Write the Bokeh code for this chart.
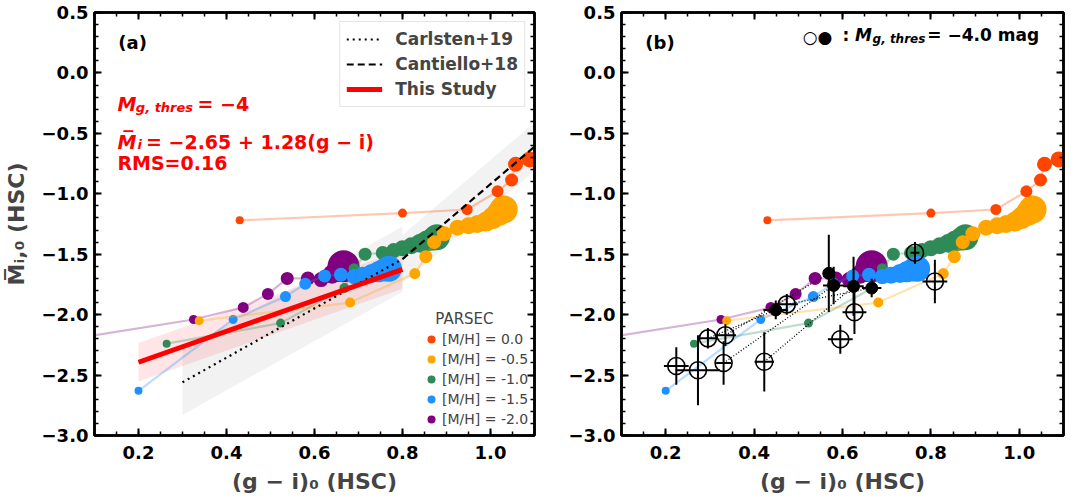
import numpy as np
from bokeh.plotting import figure
from bokeh.models import (ColumnDataSource, FixedTicker, LinearAxis, Range1d, Legend,
                          LegendItem, Label, CustomJSTickFormatter)
from bokeh.layouts import row
from bokeh.embed import file_html
from bokeh.resources import INLINE

# ---------------- data ----------------
# PARSEC isochrone tracks: (g-i)_0 and mean M_i,0
mh_labels = ["[M/H] = 0.0", "[M/H] = -0.5", "[M/H] = -1.0", "[M/H] = -1.5", "[M/H] = -2.0"]

mh00_gi = [0.43, 0.80, 0.947, 1.016, 1.048, 1.057, 1.089]
mh00_mi = [-1.22, -1.16, -1.13, -0.98, -0.886, -0.756, -0.716]

mh05_gi = [0.338, 0.681, 0.828, 0.853, 0.872, 0.895, 0.925, 0.95, 0.97, 0.99, 1.005, 1.02, 1.03]
mh05_mi = [-2.05, -1.90, -1.66, -1.52, -1.40, -1.33, -1.28, -1.265, -1.25, -1.23, -1.20, -1.16, -1.13]

mh10_gi = [0.264, 0.523, 0.668, 0.69, 0.715, 0.755, 0.78, 0.80, 0.82, 0.84, 0.855, 0.868, 0.878]
mh10_mi = [-2.24, -2.07, -1.78, -1.62, -1.50, -1.49, -1.47, -1.45, -1.43, -1.41, -1.39, -1.375, -1.36]

mh15_gi = [0.20, 0.415, 0.534, 0.579, 0.623, 0.66, 0.69, 0.71, 0.73, 0.745, 0.758, 0.769]
mh15_mi = [-2.63, -2.04, -1.85, -1.745, -1.68, -1.67, -1.685, -1.675, -1.66, -1.645, -1.63, -1.62]

mh20_gi = [0.0, 0.325, 0.438, 0.494, 0.538, 0.585, 0.615, 0.64, 0.655, 0.666]
mh20_mi = [-2.23, -2.04, -1.94, -1.83, -1.70, -1.70, -1.71, -1.665, -1.63, -1.60]

# relations (panel a)
fit_intercept = -2.65
fit_slope = 1.28
fit_rms = 0.16
fit_gi = [0.2, 0.8]
carlsten_gi = [0.3, 0.8]
carlsten_mi = [-2.56, -1.54]
carlsten_sigma = 0.27
cantiello_gi = [0.8, 1.1]
cantiello_mi = [-1.54, -0.61]
cantiello_sigma = 0.2

# measurements (panel b): open and filled circles
open_gi = [0.224, 0.273, 0.331, 0.2955, 0.335, 0.423, 0.474, 0.595, 0.627, 0.764, 0.809]
open_gi_err = [0.028, 0.05, 0.017, 0.02, 0.024, 0.022, 0.025, 0.028, 0.027, 0.01, 0.028]
open_mi = [-2.425, -2.46, -2.40, -2.196, -2.17, -2.39, -1.915, -2.204, -1.98, -1.488, -1.726]
open_mi_err = [0.155, 0.29, 0.18, 0.085, 0.09, 0.245, 0.085, 0.12, 0.18, 0.09, 0.18]

filled_gi = [0.449, 0.569, 0.580, 0.625, 0.666]
filled_gi_err = [0.028, 0.01, 0.024, 0.023, 0.022]
filled_mi = [-1.961, -1.658, -1.758, -1.766, -1.78]
filled_mi_err = [0.077, 0.32, 0.155, 0.245, 0.077]

pair_open = [3, 4, 2, 5, 6]
pair_filled = [0, 1, 2, 3, 4]

x_ticks = [0.2, 0.4, 0.6, 0.8, 1.0]
y_ticks = [-3.0, -2.5, -2.0, -1.5, -1.0, -0.5, 0.0, 0.5]

# ---------------- styles ----------------
FONT = "DejaVu Sans"
colors = {"0.0": "#FF4500", "-0.5": "#FFA500", "-1.0": "#2E8B57", "-1.5": "#1E90FF", "-2.0": "#800080"}
tracks = {
    "0.0": (mh00_gi, mh00_mi, [8, 9, 11, 12, 13, 15, 16]),
    "-0.5": (mh05_gi, mh05_mi, [9, 10, 11, 13, 14, 15, 16, 17, 18, 20, 22, 25, 28]),
    "-1.0": (mh10_gi, mh10_mi, [8, 9, 10, 11, 13, 14, 15, 16, 17, 19, 21, 23, 26]),
    "-1.5": (mh15_gi, mh15_mi, [8, 9, 11, 12, 13, 14, 15, 17, 19, 21, 23, 26]),
    "-2.0": (mh20_gi, mh20_mi, [8, 9, 11, 12, 13, 14, 15, 19, 24, 32]),
}
draw_order = ["-2.0", "-1.0", "-1.5", "-0.5", "0.0"]
legend_order = ["0.0", "-0.5", "-1.0", "-1.5", "-2.0"]

minus_fmt = "return tick.toFixed(1).replace('-', '\\u2212');"


def style_axis(ax):
    ax.axis_line_width = 2.5
    ax.axis_line_color = "black"
    ax.major_tick_in = 7
    ax.major_tick_out = 0
    ax.minor_tick_in = 4
    ax.minor_tick_out = 0
    ax.major_tick_line_width = 2
    ax.minor_tick_line_width = 1.5
    ax.major_label_text_font = FONT
    ax.major_label_text_font_style = "bold"
    ax.major_label_text_font_size = "18px"
    ax.major_label_text_color = "black"


def make_fig(width, border_left):
    p = figure(width=width, height=496, x_range=Range1d(0.1, 1.1), y_range=Range1d(-3.0, 0.5),
               output_backend="svg", toolbar_location=None,
               min_border_left=border_left, min_border_right=2, min_border_top=12,
               min_border_bottom=56)
    p.grid.visible = False
    p.outline_line_color = "black"
    p.outline_line_width = 2.5
    xt = FixedTicker(ticks=x_ticks, minor_ticks=list(np.round(np.arange(0.1, 1.1001, 0.05), 3)))
    yt = FixedTicker(ticks=y_ticks, minor_ticks=list(np.round(np.arange(-3.0, 0.5001, 0.1), 3)))
    p.xaxis.ticker = xt
    p.yaxis.ticker = yt
    p.xaxis.formatter = CustomJSTickFormatter(code=minus_fmt)
    p.yaxis.formatter = CustomJSTickFormatter(code=minus_fmt)
    style_axis(p.xaxis[0])
    style_axis(p.yaxis[0])
    p.xaxis.major_label_standoff = 10
    p.yaxis.major_label_standoff = 6
    p.xaxis.axis_label = "(g \u2212 i)\u2080 (HSC)"
    p.xaxis.axis_label_text_font = FONT
    p.xaxis.axis_label_text_font_style = "bold"
    p.xaxis.axis_label_text_font_size = "22px"
    p.xaxis.axis_label_standoff = 7
    empty = CustomJSTickFormatter(code="return '';")
    top = LinearAxis(ticker=xt, formatter=empty, major_label_standoff=0)
    right = LinearAxis(ticker=yt, formatter=empty, major_label_standoff=0)
    style_axis(top)
    style_axis(right)
    p.add_layout(top, "above")
    p.add_layout(right, "right")
    return p


def draw_isochrones(p):
    rends = {}
    for key in draw_order:
        gi, mi, sz = tracks[key]
        src = ColumnDataSource(dict(x=gi, y=mi, s=sz))
        p.line("x", "y", source=src, line_color=colors[key], line_alpha=0.3, line_width=2.2)
        rends[key] = p.scatter("x", "y", source=src, size="s", fill_color=colors[key],
                               line_color=None)
    return rends


def add_text(p, x, y, text, size, style="bold", color="black"):
    p.add_layout(Label(x=x, y=y, text=text, text_font=FONT, text_font_size=size,
                       text_font_style=style, text_color=color, text_baseline="middle",
                       text_align="left"))


# ---------------- panel (a) ----------------
p1 = make_fig(536, 87)
p1.yaxis[0].axis_label = "M\u0305\u1d62,\u2080 (HSC)"
p1.yaxis[0].axis_label_text_font = FONT
p1.yaxis[0].axis_label_text_font_style = "bold"
p1.yaxis[0].axis_label_text_font_size = "22px"
p1.yaxis[0].axis_label_standoff = 10

fit_mi = [fit_intercept + fit_slope * g for g in fit_gi]
p1.varea(x=carlsten_gi, y1=[m - carlsten_sigma for m in carlsten_mi],
         y2=[m + carlsten_sigma for m in carlsten_mi], fill_color="gray", fill_alpha=0.1)
p1.varea(x=cantiello_gi, y1=[m - cantiello_sigma for m in cantiello_mi],
         y2=[m + cantiello_sigma for m in cantiello_mi], fill_color="gray", fill_alpha=0.1)
p1.varea(x=fit_gi, y1=[m - fit_rms for m in fit_mi], y2=[m + fit_rms for m in fit_mi],
         fill_color="red", fill_alpha=0.1)

rends1 = draw_isochrones(p1)

r_carl = p1.line(carlsten_gi, carlsten_mi, line_color="black", line_width=2.2, line_dash="2 4")
r_cant = p1.line(cantiello_gi, cantiello_mi, line_color="black", line_width=2.2, line_dash="7 4")
r_fit = p1.line(fit_gi, fit_mi, line_color="red", line_width=5)

leg1 = Legend(items=[LegendItem(label="Carlsten+19", renderers=[r_carl]),
                     LegendItem(label="Cantiello+18", renderers=[r_cant]),
                     LegendItem(label="This Study", renderers=[r_fit])],
              location="top_right", margin=9, padding=6, spacing=3, glyph_width=36,
              glyph_height=22, label_height=22, label_standoff=13,
              label_text_font=FONT, label_text_font_style="bold", label_text_font_size="17px",
              border_line_color="#cccccc", border_line_width=1.2, background_fill_alpha=0.85)
p1.add_layout(leg1)

leg2 = Legend(items=[LegendItem(label=mh_labels[i], renderers=[rends1[k]])
                     for i, k in enumerate(legend_order)],
              location=(327, 6), title="\u00a0\u00a0\u00a0PARSEC", title_text_font=FONT,
              title_text_font_size="15px", title_text_font_style="normal", title_standoff=1,
              padding=0, spacing=-2, glyph_width=20, glyph_height=20, label_height=18,
              label_standoff=1, label_text_font=FONT, label_text_font_size="14px",
              border_line_color=None, background_fill_alpha=0)
p1.add_layout(leg2)

add_text(p1, 0.154, 0.25, "(a)", "18px")
RED = "#FF0000"
add_text(p1, 0.152, -0.254, "M", "19px", "bold italic", RED)
add_text(p1, 0.194, -0.285, "g, thres", "13px", "bold italic", RED)
add_text(p1, 0.334, -0.254, "= \u22124", "19px", "bold", RED)
add_text(p1, 0.152, -0.57, "M\u0305", "19px", "bold italic", RED)
add_text(p1, 0.198, -0.594, "i", "13px", "bold italic", RED)
add_text(p1, 0.217, -0.57, "= \u22122.65 + 1.28(g \u2212 i)", "19px", "bold", RED)
add_text(p1, 0.152, -0.748, "RMS=0.16", "19px", "bold", RED)

# ---------------- panel (b) ----------------
p2 = make_fig(529, 85)
draw_isochrones(p2)

p2.segment(x0=[open_gi[i] for i in pair_open], y0=[open_mi[i] for i in pair_open],
           x1=[filled_gi[j] for j in pair_filled], y1=[filled_mi[j] for j in pair_filled],
           line_color="black", line_width=1.3, line_dash="1 2")

for gx, gxe, my, mye in ((open_gi, open_gi_err, open_mi, open_mi_err),
                         (filled_gi, filled_gi_err, filled_mi, filled_mi_err)):
    p2.segment(x0=[g - e for g, e in zip(gx, gxe)], x1=[g + e for g, e in zip(gx, gxe)],
               y0=my, y1=my, line_color="black", line_width=2)
    p2.segment(x0=gx, x1=gx, y0=[m - e for m, e in zip(my, mye)],
               y1=[m + e for m, e in zip(my, mye)], line_color="black", line_width=2)

p2.scatter(open_gi, open_mi, size=17, fill_color=None, line_color="black", line_width=1.6)
p2.scatter(filled_gi, filled_mi, size=12, fill_color="black", line_color="black")

add_text(p2, 0.154, 0.25, "(b)", "18px")
add_text(p2, 0.51, 0.297, "\u25cb\u25cf", "17px", "normal")
add_text(p2, 0.60, 0.31, ":", "17px", "bold")
add_text(p2, 0.628, 0.31, "M", "17px", "bold italic")
add_text(p2, 0.668, 0.28, "g, thres", "12px", "bold italic")
add_text(p2, 0.792, 0.31, "= \u22124.0 mag", "17px", "bold")

layout = row(p1, p2)
open("out.html", "w").write(file_html(layout, INLINE))
